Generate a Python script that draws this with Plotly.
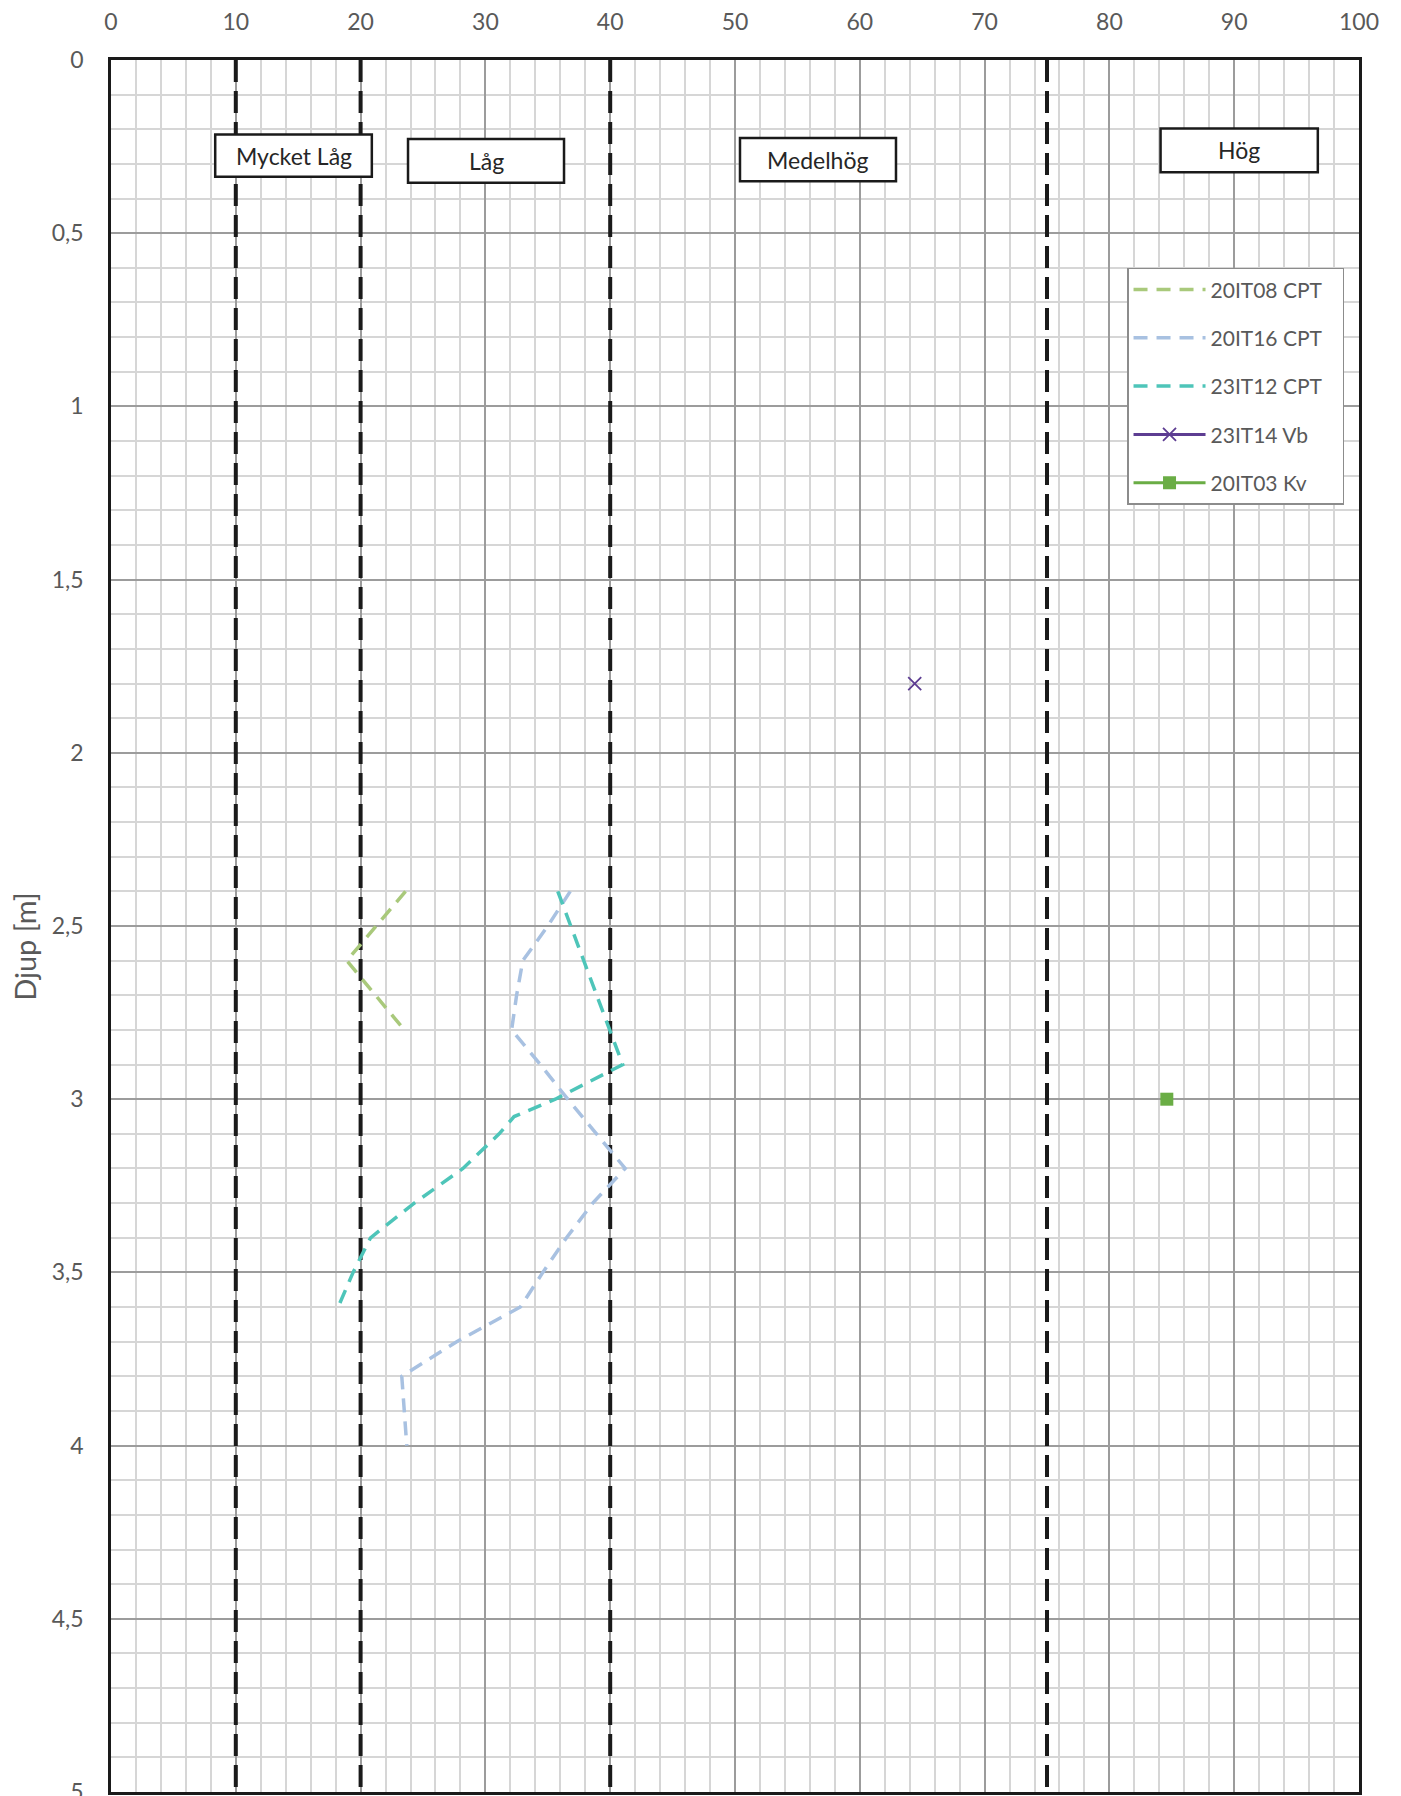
import plotly.graph_objects as go

# ---------------- data ----------------
it08_x = [23.6, 18.9, 23.5]
it08_d = [2.4, 2.6, 2.8]

it16_x = [36.8, 35.0, 33.0, 32.5, 32.1, 34.4, 36.6, 38.9, 41.2, 38.6, 36.5, 34.6, 32.8, 27.7, 23.3, 23.5, 23.7]
it16_d = [2.4, 2.5, 2.6, 2.7, 2.8, 2.9, 3.0, 3.1, 3.2, 3.3, 3.4, 3.5, 3.6, 3.7, 3.8, 3.9, 4.0]

it12_x = [35.8, 41.0, 35.6, 32.3, 31.1, 28.2, 24.3, 20.8, 19.4, 18.2]
it12_d = [2.4, 2.9, 3.0, 3.05, 3.1, 3.2, 3.3, 3.4, 3.5, 3.6]

vb_x = [64.4]
vb_d = [1.8]

kv_x = [84.6]
kv_d = [3.0]

boundaries = [10, 20, 40, 75]

class_labels = ["Mycket Låg", "Låg", "Medelhög", "Hög"]
class_x0 = [8.35, 23.8, 50.4, 84.1]
class_x1 = [20.9, 36.3, 62.9, 96.7]
class_y0 = [0.215, 0.228, 0.225, 0.198]
class_y1 = [0.337, 0.354, 0.350, 0.324]

FONT = "Lato"
GREY = "#595959"
PAD = "\u00a0\u00a0\u00a0"

fig = go.Figure()

# boundary dashed lines
for b in boundaries:
    fig.add_trace(go.Scatter(x=[b, b], y=[0, 5], mode="lines",
                             line=dict(color="#1a1a1a", width=4, dash="22px,9px"),
                             showlegend=False, hoverinfo="skip"))

series = [
    ("20IT08 CPT", it08_x, it08_d, "#a9c97b"),
    ("20IT16 CPT", it16_x, it16_d, "#a8c1e1"),
    ("23IT12 CPT", it12_x, it12_d, "#4ec5b9"),
]
for i, (name, xs, ds, col) in enumerate(series):
    fig.add_trace(go.Scatter(x=xs, y=ds, mode="lines", name=name + PAD,
                             line=dict(color=col, width=3.5, dash="14px,9px"),
                             legendgroup=f"g{i}"))

fig.add_trace(go.Scatter(x=vb_x, y=vb_d, mode="lines+markers", name="23IT14 Vb" + PAD,
                         line=dict(color="#5d3d92", width=3),
                         marker=dict(symbol="x-thin", size=13, line=dict(color="#5d3d92", width=1.8)),
                         legendgroup="g3"))
fig.add_trace(go.Scatter(x=kv_x, y=kv_d, mode="lines+markers", name="20IT03 Kv" + PAD,
                         line=dict(color="#6aad45", width=3),
                         marker=dict(symbol="square", size=13, color="#6aad45"),
                         legendgroup="g4"))

# class boxes
for lab, x0, x1, y0, y1 in zip(class_labels, class_x0, class_x1, class_y0, class_y1):
    fig.add_shape(type="rect", xref="x", yref="y", x0=x0, x1=x1, y0=y0, y1=y1,
                  line=dict(color="#1a1a1a", width=2.5), fillcolor="white", layer="above")
    fig.add_annotation(x=(x0 + x1) / 2, y=(y0 + y1) / 2, xref="x", yref="y", text=lab,
                       showarrow=False, font=dict(family=FONT, size=23, color="#262626"))

fig.add_annotation(x=-0.069, y=0.4885, xref="paper", yref="paper", text="Djup [m]",
                   textangle=-90, showarrow=False, xanchor="center", yanchor="middle",
                   font=dict(family=FONT, size=29, color=GREY))

fig.update_layout(
    width=1401, height=1796,
    margin=dict(l=111, r=42, t=60, b=4, autoexpand=False),
    paper_bgcolor="white", plot_bgcolor="white",
    separators=", ",
    font=dict(family=FONT, size=22, color=GREY),
    showlegend=True,
    legend=dict(x=0.988, y=0.88, xanchor="right", yanchor="top",
                bgcolor="white", bordercolor="#8c8c8c", borderwidth=1.5,
                font=dict(family=FONT, size=21, color=GREY),
                tracegroupgap=18, itemwidth=72),
)

fig.update_xaxes(range=[0, 100], side="top", dtick=10, tick0=0, automargin=False,
                 showgrid=True, gridcolor="#9c9c9c", gridwidth=1.5,
                 minor=dict(dtick=2, showgrid=True, gridcolor="#d6d6d6", gridwidth=1.5),
                 showline=True, linecolor="#1a1a1a", linewidth=2.5, mirror=True,
                 ticks="", ticklabelstandoff=18, zeroline=False, ticklabeloverflow="allow",
                 tickfont=dict(family=FONT, size=23, color=GREY))
fig.update_yaxes(range=[5, 0], dtick=0.5, tick0=0, automargin=False,
                 showgrid=True, gridcolor="#9c9c9c", gridwidth=1.5,
                 minor=dict(dtick=0.1, showgrid=True, gridcolor="#d6d6d6", gridwidth=1.5),
                 showline=True, linecolor="#1a1a1a", linewidth=2.5, mirror=True,
                 ticks="", ticklabelstandoff=20, zeroline=False, ticklabeloverflow="allow",
                 tickfont=dict(family=FONT, size=23, color=GREY))

fig.write_html("out.html", config={"displayModeBar": False},
               post_script="document.body.style.margin='0';document.body.style.overflow='hidden';")
